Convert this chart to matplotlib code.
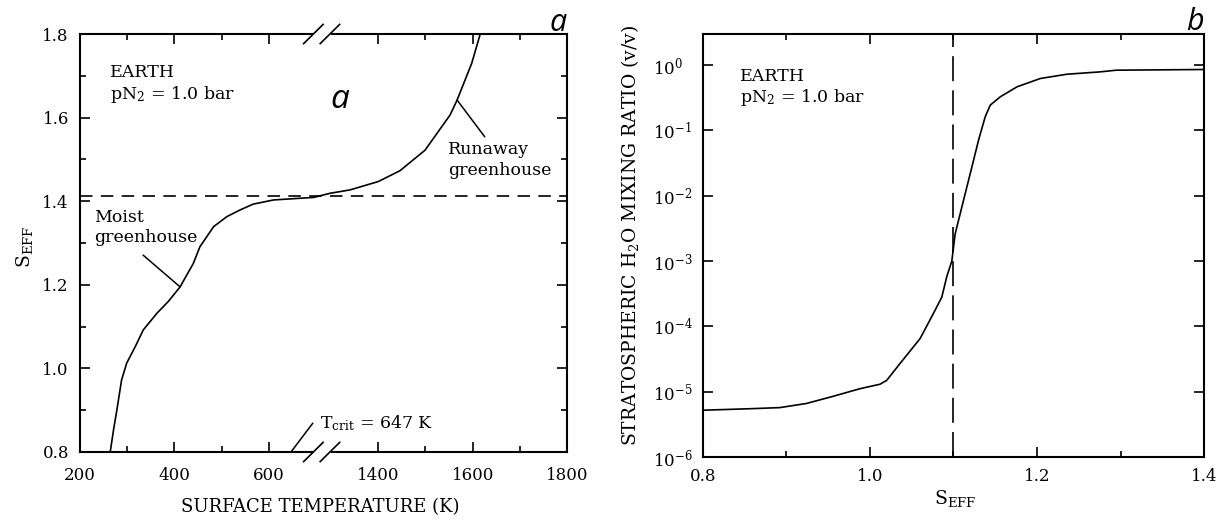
import numpy as np
import matplotlib
matplotlib.use('Agg')
import matplotlib.pyplot as plt
from matplotlib.ticker import FixedLocator, NullLocator

plt.rcParams['font.family'] = 'DejaVu Serif'
plt.rcParams['mathtext.fontset'] = 'dejavuserif'

# (a) effective solar flux vs. surface temperature
temp_k = [264, 271, 278, 288, 299, 317, 334, 363, 387, 412, 440, 454, 483, 511,
          539, 567, 610, 666, 695, 1298, 1340, 1400, 1446, 1499, 1552, 1567,
          1598, 1616]
s_eff_a = [0.80, 0.853, 0.90, 0.972, 1.013, 1.052, 1.092, 1.132, 1.16, 1.195,
           1.251, 1.291, 1.339, 1.363, 1.379, 1.393, 1.403, 1.407, 1.409, 1.419,
           1.427, 1.447, 1.473, 1.522, 1.606, 1.642, 1.73, 1.80]
s_runaway = 1.413
t_crit = 647

# (b) stratospheric water vapour vs. effective solar flux
s_eff_b = [0.800, 0.860, 0.892, 0.924, 0.956, 0.988, 1.012, 1.020, 1.036, 1.060,
           1.076, 1.086, 1.092, 1.098, 1.102, 1.112, 1.122, 1.130, 1.138, 1.144,
           1.156, 1.176, 1.204, 1.236, 1.275, 1.295, 1.400]
h2o_mix = [5.2e-6, 5.5e-6, 5.7e-6, 6.6e-6, 8.5e-6, 1.11e-5, 1.30e-5, 1.49e-5,
           2.7e-5, 6.5e-5, 1.58e-4, 2.8e-4, 5.8e-4, 1.0e-3, 2.6e-3, 8.5e-3,
           2.75e-2, 7.1e-2, 0.162, 0.244, 0.327, 0.465, 0.624, 0.726, 0.787,
           0.836, 0.857]
s_moist = 1.1

# broken temperature axis: skip 712 K .. 1280 K
B1, B2 = 712.0, 1280.0
GAP = B2 - B1


def fwd(t):
    t = np.asarray(t, dtype=float)
    return np.where(t <= B1, t, np.where(t >= B2, t - GAP, B1))


def inv(u):
    u = np.asarray(u, dtype=float)
    return np.where(u <= B1, u, u + GAP)


fig = plt.figure(figsize=(12.2, 5.2), dpi=100)
ax1 = fig.add_axes([0.0656, 0.1308, 0.3992, 0.8038])
ax2 = fig.add_axes([0.5762, 0.1212, 0.4107, 0.8135])

for ax in (ax1, ax2):
    for sp in ax.spines.values():
        sp.set_linewidth(1.5)
    ax.tick_params(which='both', direction='in', top=True, right=True, width=1.2)
    ax.tick_params(which='major', length=7, labelsize=12)
    ax.tick_params(which='minor', length=4)

# ---- panel a ----
ax1.set_xscale('function', functions=(fwd, inv))
ax1.plot(temp_k, s_eff_a, color='black', lw=1.2)
ax1.axhline(s_runaway, color='black', lw=1.2, dashes=(7.5, 5))
ax1.set_xlim(200, 1800)
ax1.set_ylim(0.8, 1.8)
ax1.set_xticks([200, 400, 600, 1400, 1600, 1800])
ax1.set_xticklabels(['200', '400', '600', '1400', '1600', '1800'])
ax1.xaxis.set_minor_locator(FixedLocator([300, 500, 1500, 1700]))
ax1.set_yticks([0.8, 1.0, 1.2, 1.4, 1.6, 1.8])
ax1.set_yticklabels(['0.8', '1.0', '1.2', '1.4', '1.6', '1.8'])
ax1.yaxis.set_minor_locator(FixedLocator([0.9, 1.1, 1.3, 1.5, 1.7]))
ax1.tick_params(axis='x', which='major', pad=11)
ax1.tick_params(axis='y', which='major', pad=8)

# break marks on top and bottom spines
xb = (fwd(B1) - 200) / (fwd(1800) - 200)
for yb in (0.0, 1.0):
    ax1.plot([xb - 0.012, xb + 0.012], [yb, yb], color='white', lw=4,
             transform=ax1.transAxes, clip_on=False, zorder=4)
    for dx in (-0.017, 0.017):
        ax1.plot([xb + dx - 0.02, xb + dx + 0.02], [yb - 0.023, yb + 0.023],
                 color='black', lw=1.2, transform=ax1.transAxes,
                 clip_on=False, zorder=5)

ax1.text(0.062, 0.909, 'EARTH', transform=ax1.transAxes, fontsize=12.5, va='center')
ax1.text(0.062, 0.856, r'pN$_\mathregular{2}$ = 1.0 bar', transform=ax1.transAxes,
         fontsize=12.5, va='center')
ax1.text(0.0295, 0.537, 'Moist\ngreenhouse', transform=ax1.transAxes, fontsize=12.5,
         va='center', linespacing=1.3)
ax1.annotate('', xy=(412, 1.195), xytext=(0.1295, 0.471), textcoords='axes fraction',
             arrowprops=dict(arrowstyle='-', color='black', lw=1.1,
                             shrinkA=0, shrinkB=0))
ax1.text(0.756, 0.699, 'Runaway\ngreenhouse', transform=ax1.transAxes, fontsize=12.5,
         va='center', linespacing=1.3)
ax1.annotate('', xy=(1567, 1.642), xytext=(0.831, 0.754), textcoords='axes fraction',
             arrowprops=dict(arrowstyle='-', color='black', lw=1.1,
                             shrinkA=0, shrinkB=0))
ax1.text(0.493, 0.069, r'T$_\mathregular{crit}$ = 647 K', transform=ax1.transAxes,
         fontsize=12.5, va='center')
ax1.annotate('', xy=(t_crit, 0.8), xytext=(0.478, 0.069), textcoords='axes fraction',
             arrowprops=dict(arrowstyle='-', color='black', lw=1.1,
                             shrinkA=0, shrinkB=0))
ax1.text(0.493, -0.132, 'SURFACE TEMPERATURE (K)', transform=ax1.transAxes,
         fontsize=13, ha='center', va='center')
ax1.text(-0.113, 0.49, r'S$_\mathregular{EFF}$', transform=ax1.transAxes,
         fontsize=13.5, ha='center', va='center', rotation=90)
ax1.text(0.534, 0.823, 'a', transform=ax1.transAxes, fontsize=24, ha='center',
         va='baseline', family='Open Sans', style='italic')
ax1.text(1.0, 1.007, 'a', transform=ax1.transAxes, fontsize=22, ha='right',
         va='baseline', family='Open Sans', style='italic')

# ---- panel b ----
ax2.plot(s_eff_b, h2o_mix, color='black', lw=1.2)
ax2.axvline(s_moist, color='black', lw=1.2, dashes=(15, 5.5))
ax2.set_yscale('log')
ax2.set_xlim(0.8, 1.4)
ax2.set_ylim(1e-6, 3)
ax2.set_yticks([1e-6, 1e-5, 1e-4, 1e-3, 1e-2, 1e-1, 1e0])
ax2.yaxis.set_minor_locator(NullLocator())
ax2.set_xticks([0.8, 1.0, 1.2, 1.4])
ax2.set_xticklabels(['0.8', '1.0', '1.2', '1.4'])
ax2.xaxis.set_minor_locator(FixedLocator([0.9, 1.1, 1.3]))
ax2.tick_params(axis='x', which='major', pad=8)
ax2.tick_params(axis='y', which='major', pad=36)
for lab in ax2.get_yticklabels():
    lab.set_horizontalalignment('left')

ax2.text(0.074, 0.90, 'EARTH', transform=ax2.transAxes, fontsize=12.5, va='center')
ax2.text(0.074, 0.849, r'pN$_\mathregular{2}$ = 1.0 bar', transform=ax2.transAxes,
         fontsize=12.5, va='center')
ax2.text(0.503, -0.097, r'S$_\mathregular{EFF}$', transform=ax2.transAxes,
         fontsize=13.5, ha='center', va='center')
ax2.text(-0.146, 0.525, r'STRATOSPHERIC H$_\mathregular{2}$O MIXING RATIO (v/v)',
         transform=ax2.transAxes, fontsize=13.5, ha='center', va='center',
         rotation=90)
ax2.text(1.0, 1.009, 'b', transform=ax2.transAxes, fontsize=22, ha='right',
         va='baseline', family='Open Sans', style='italic')

fig.savefig('out.png', dpi=100)
